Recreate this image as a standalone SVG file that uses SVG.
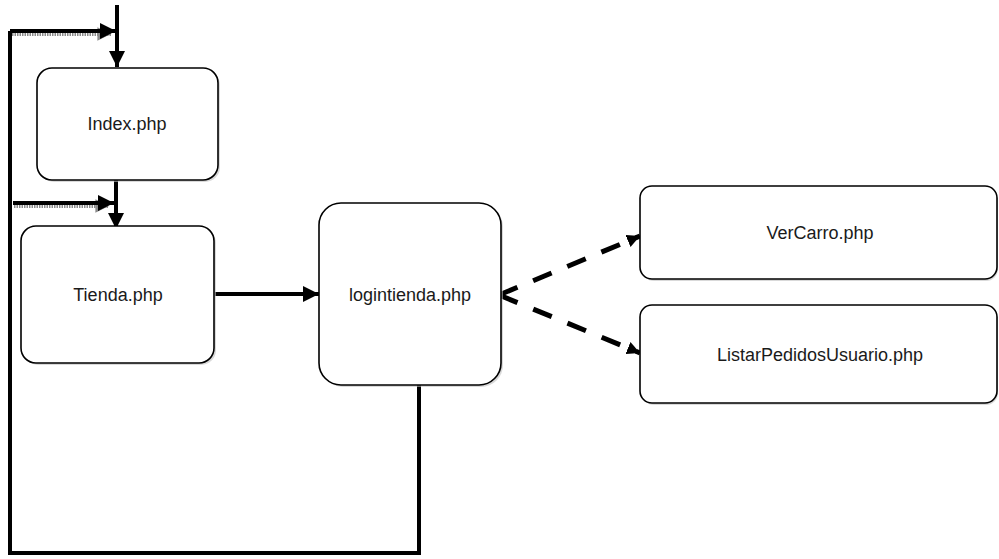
<svg xmlns="http://www.w3.org/2000/svg" width="999" height="559" viewBox="0 0 999 559">
<style>
.box{fill:#fff;stroke:#000;stroke-width:1.6}
.shadow{fill:#bfbfbf;opacity:0.6}
.lbl{font-family:"Liberation Sans",Arial,sans-serif;font-size:18px;fill:#1a1a1a;text-anchor:middle}
.ln{fill:none;stroke:#000;stroke-width:4}
.gr{fill:none;stroke:#8a8a8a;stroke-width:4;stroke-dasharray:1.5 1}
.dash{fill:none;stroke:#000;stroke-width:5;stroke-dasharray:20 17}
</style>
<defs>
<marker id="ah" viewBox="0 0 10 10" refX="10" refY="5" markerWidth="4" markerHeight="4" markerUnits="strokeWidth" orient="auto">
<path d="M0,0 L10,5 L0,10 z" fill="#000"/>
</marker>
<marker id="ahg" viewBox="0 0 10 10" refX="10" refY="5" markerWidth="4" markerHeight="3.4" markerUnits="strokeWidth" orient="auto">
<path d="M0,0 L10,5 L0,10 z" fill="#8a8a8a"/>
</marker>
<marker id="ahd" viewBox="0 0 10 10" refX="10" refY="5" markerWidth="2.6" markerHeight="2.6" markerUnits="strokeWidth" orient="auto">
<path d="M0,0 L10,5 L0,10 z" fill="#000"/>
</marker>
</defs>
<rect width="999" height="559" fill="#fff"/>
<g id="connectors">
<path class="ln" d="M419,385 L419,553 L10,553 L10,31"/>
<path class="gr" d="M12,34 L111,34" marker-end="url(#ahg)"/>
<path class="ln" d="M10,31 L116,31" marker-end="url(#ah)"/>
<path class="gr" d="M14,206 L109,206" marker-end="url(#ahg)"/>
<path class="ln" d="M13,203 L114,203" marker-end="url(#ah)"/>
<path class="ln" d="M117,5 L117,67" marker-end="url(#ah)"/>
<path class="ln" d="M116,180 L116,229" marker-end="url(#ah)"/>
<path class="ln" d="M215,294 L319,294" marker-end="url(#ah)"/>
<path class="dash" d="M499,295 L640,236" marker-end="url(#ahd)"/>
<path class="dash" d="M499,295 L640,353" marker-end="url(#ahd)"/>
</g>
<g id="index">
<rect class="shadow" x="39" y="70" width="181" height="112" rx="15"/>
<rect class="box" x="37" y="68" width="181" height="112" rx="15"/>
<text class="lbl" x="127" y="130">Index.php</text>
</g>
<g id="tienda">
<rect class="shadow" x="23" y="228" width="193" height="137" rx="15"/>
<rect class="box" x="21" y="226" width="193" height="137" rx="15"/>
<text class="lbl" x="118" y="301">Tienda.php</text>
</g>
<g id="logintienda">
<rect class="shadow" x="321" y="205" width="182" height="182" rx="22"/>
<rect class="box" x="319" y="203" width="182" height="182" rx="22"/>
<text class="lbl" x="410" y="301">logintienda.php</text>
</g>
<g id="vercarro">
<rect class="shadow" x="642" y="188" width="356" height="93" rx="12"/>
<rect class="box" x="640" y="186" width="357" height="93" rx="12"/>
<text class="lbl" x="820" y="239">VerCarro.php</text>
</g>
<g id="listarpedidos">
<rect class="shadow" x="642" y="307" width="356" height="98" rx="12"/>
<rect class="box" x="640" y="305" width="357" height="98" rx="12"/>
<text class="lbl" x="820" y="361">ListarPedidosUsuario.php</text>
</g>
</svg>
